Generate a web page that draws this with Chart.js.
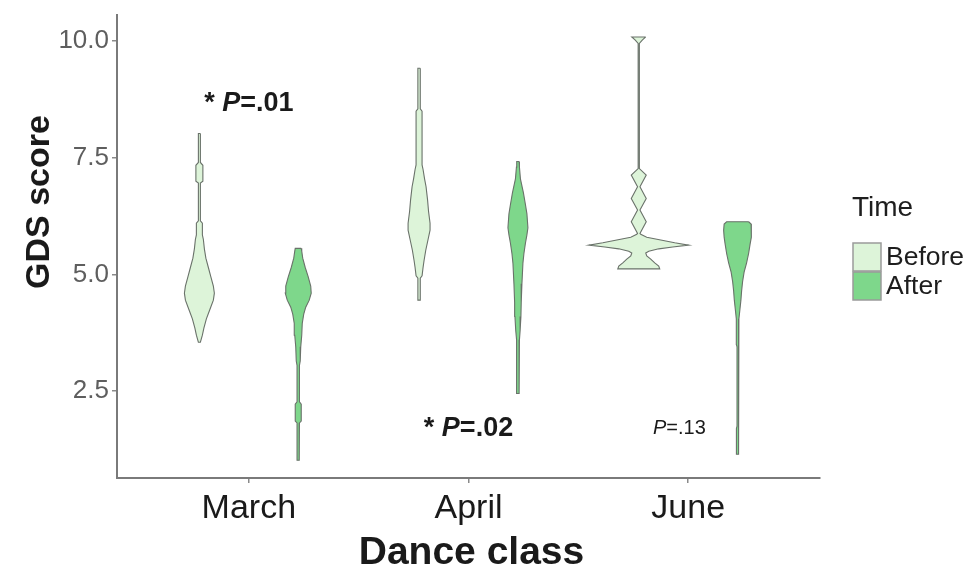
<!DOCTYPE html>
<html><head><meta charset="utf-8">
<script src="https://cdn.jsdelivr.net/npm/chart.js@4"></script>
<style>html,body{margin:0;padding:0;background:#fff}#wrap{width:971px;height:567px}</style>
</head><body><div id="wrap"><canvas id="c" width="971" height="567"></canvas></div>
<script>
// ---- data ----
const categories = ['March', 'April', 'June'];
const groups = ['Before', 'After'];
const yTicks = [2.5, 5.0, 7.5, 10.0];

// violin outlines: GDS score levels and density (half-width) at each level
const marchBeforeScore   = [8.02, 7.4, 7.34, 7.0, 6.96, 6.15, 6.1, 5.85, 5.75, 5.55, 5.35, 5.15, 4.95, 4.75, 4.6, 4.45, 4.25, 4.05, 3.85, 3.7, 3.55];
const marchBeforeDensity = [1, 1, 3.5, 3.5, 1, 1, 3, 3, 4, 5, 6.5, 9, 11.5, 14, 15, 14, 10.5, 7, 4.5, 3, 1];
const marchAfterScore    = [5.56, 5.5, 5.35, 5.15, 4.95, 4.75, 4.6, 4.45, 4.3, 4.15, 3.95, 3.7, 3.45, 3.15, 3.05, 2.27, 2.22, 1.86, 1.82, 1.02];
const marchAfterDensity  = [3, 3.5, 4.5, 7, 10, 12.5, 13, 11, 7.5, 5.5, 4, 3.5, 2.5, 2, 1.2, 1.2, 3, 3, 1.2, 1];
const aprilBeforeScore   = [9.42, 8.55, 8.5, 7.35, 7.25, 7.05, 6.88, 6.6, 6.35, 6.1, 5.95, 5.75, 5.52, 5.3, 5.15, 4.97, 4.92, 4.45];
const aprilBeforeDensity = [1.2, 1.2, 3, 3, 4, 5.5, 7, 8.5, 9.5, 11, 11, 9, 6.7, 5, 4, 3, 1.2, 1.2];
const aprilAfterScore    = [7.42, 7.3, 7.05, 6.75, 6.5, 6.3, 6.0, 5.85, 5.67, 5.45, 5.24, 4.8, 4.4, 4.1, 3.8, 3.6, 3.3, 2.45];
const aprilAfterDensity  = [1.2, 1.5, 2.5, 5.5, 7.5, 9, 10, 9, 7.5, 6, 5, 4, 3.3, 3, 2.2, 1.5, 1.2, 1.2];
const juneBeforeScore    = [10.09, 10.02, 9.95, 7.27, 7.13, 6.88, 6.63, 6.38, 6.13, 5.88, 5.86, 5.80, 5.74, 5.68, 5.63, 5.59, 5.55, 5.50, 5.46, 5.40, 5.33, 5.25, 5.18, 5.12];
const juneBeforeDensity  = [7, 3.5, 0.6, 0.6, 7.5, 1.2, 7.5, 1.2, 7.5, 1.2, 2, 8, 22, 36, 50, 34, 20, 10, 7, 8, 12, 16, 20, 21];
const juneAfterScore     = [6.13, 6.08, 5.95, 5.8, 5.65, 5.45, 5.25, 5.05, 4.85, 4.65, 4.45, 4.25, 4.05, 3.5, 3.45, 1.75, 1.7, 1.15];
const juneAfterDensity   = [11, 13.5, 14, 13.5, 12.5, 11, 9, 6.5, 5, 4, 3.3, 2.3, 1.3, 1.2, 0.6, 0.6, 1.2, 1.2];

const pValues = ['.01', '.02', '.13'];
const pSignificant = [true, true, false];

// ---- build ----
const violins = [
  [[marchBeforeScore, marchBeforeDensity], [marchAfterScore, marchAfterDensity]],
  [[aprilBeforeScore, aprilBeforeDensity], [aprilAfterScore, aprilAfterDensity]],
  [[juneBeforeScore, juneBeforeDensity], [juneAfterScore, juneAfterDensity]]
];
const fills = ['#ddf4d9', '#7ed78b'];
const dodge = [-0.225, 0.225];
const densityScale = 1 / 220;

const datasets = [];
violins.forEach((pair, ci) => {
  pair.forEach(([score, dens], gi) => {
    const cx = ci + dodge[gi];
    const pts = [];
    for (let i = 0; i < score.length; i++) pts.push({x: cx + dens[i] * densityScale, y: score[i]});
    for (let i = score.length - 1; i >= 0; i--) pts.push({x: cx - dens[i] * densityScale, y: score[i]});
    pts.push({...pts[0]});
    datasets.push({
      label: categories[ci] + ' ' + groups[gi],
      data: pts,
      backgroundColor: fills[gi],
      borderColor: '#6a726a',
      borderWidth: 1.1,
      fill: 'shape',
      pointRadius: 0,
      tension: 0
    });
  });
});

const annot = {
  id: 'annot',
  afterDatasetsDraw(chart) {
    const {ctx, scales: {x, y}} = chart;
    const spots = [[0, 8.67], [1, 1.71], [1.96, 1.71]];
    pValues.forEach((p, i) => {
      const sig = pSignificant[i];
      const sz = sig ? 27 : 20;
      const w = sig ? 'bold ' : '';
      const segs = sig
        ? [['* ', w + sz + 'px "Liberation Sans"'], ['P', 'italic ' + w + sz + 'px "Liberation Sans"'], ['=' + p, w + sz + 'px "Liberation Sans"']]
        : [['P', 'italic ' + sz + 'px "Liberation Sans"'], ['=' + p, sz + 'px "Liberation Sans"']];
      ctx.save();
      ctx.fillStyle = '#1a1a1a';
      ctx.textBaseline = 'middle';
      let total = 0;
      segs.forEach(s => { ctx.font = s[1]; total += ctx.measureText(s[0]).width; });
      let px = x.getPixelForValue(spots[i][0]) - total / 2;
      const py = y.getPixelForValue(spots[i][1]);
      segs.forEach(s => { ctx.font = s[1]; ctx.fillText(s[0], px, py); px += ctx.measureText(s[0]).width; });
      ctx.restore();
    });
  },
  afterDraw(chart) {
    const {ctx, chartArea} = chart;
    ctx.save();
    // axis titles
    ctx.fillStyle = '#1a1a1a';
    ctx.textAlign = 'center';
    ctx.textBaseline = 'alphabetic';
    ctx.font = 'bold 39px "Liberation Sans"';
    ctx.fillText('Dance class', (chartArea.left + chartArea.right) / 2 + 3, 564);
    ctx.save();
    ctx.translate(49, 202);
    ctx.rotate(-Math.PI / 2);
    ctx.font = 'bold 34px "Liberation Sans"';
    ctx.fillText('GDS score', 0, 0);
    ctx.restore();
    // legend
    ctx.textAlign = 'left';
    ctx.fillStyle = '#1e1e1e';
    ctx.font = '28px "Liberation Sans"';
    ctx.fillText('Time', 852, 216);
    groups.forEach((g, i) => {
      const top = 243 + i * 29;
      ctx.fillStyle = fills[i];
      ctx.fillRect(853, top, 28, 28);
      ctx.strokeStyle = '#9a9a9a';
      ctx.lineWidth = 1.5;
      ctx.strokeRect(853, top, 28, 28);
      ctx.fillStyle = '#1e1e1e';
      ctx.font = '26.5px "Liberation Sans"';
      ctx.textBaseline = 'middle';
      ctx.fillText(g, 886, top + 15);
    });
    ctx.restore();
  }
};

new Chart(document.getElementById('c'), {
  type: 'line',
  data: {datasets},
  options: {
    responsive: false,
    devicePixelRatio: 1,
    animation: false,
    events: [],
    layout: {padding: {top: 15, right: 151, left: 0, bottom: 0}},
    plugins: {legend: {display: false}, tooltip: {enabled: false}},
    scales: {
      x: {
        type: 'linear', min: -0.6, max: 2.6,
        afterBuildTicks: s => { s.ticks = categories.map((c, i) => ({value: i})); },
        afterFit: s => { s.height = 89; s.paddingLeft = 0; s.paddingRight = 0; },
        ticks: {
          callback: v => categories[v],
          font: {family: 'Liberation Sans', size: 34},
          color: '#1a1a1a', padding: 5, maxRotation: 0
        },
        grid: {drawOnChartArea: false, drawTicks: true, tickLength: 5, color: '#8a8a8a', lineWidth: 1.5},
        border: {display: true, color: '#7a7a7a', width: 2}
      },
      y: {
        type: 'linear', min: 0.64, max: 10.56,
        afterBuildTicks: s => { s.ticks = yTicks.map(v => ({value: v})); },
        afterFit: s => { s.width = 117; s.paddingTop = 0; s.paddingBottom = 0; },
        ticks: {
          callback: v => v.toFixed(1),
          font: {family: 'Liberation Sans', size: 26},
          color: '#5e5e5e', padding: 3
        },
        grid: {drawOnChartArea: false, drawTicks: true, tickLength: 5, color: '#8a8a8a', lineWidth: 1.5},
        border: {display: true, color: '#7a7a7a', width: 2}
      }
    }
  },
  plugins: [annot]
});
</script>
</body></html>
